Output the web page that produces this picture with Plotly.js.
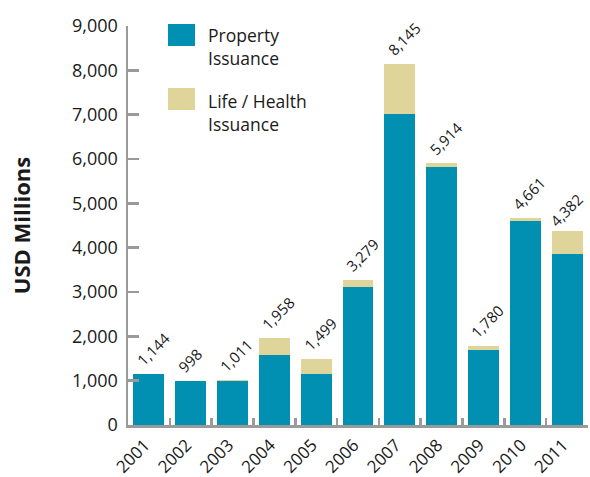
<!DOCTYPE html>
<html><head><meta charset="utf-8">
<script src="https://cdn.plot.ly/plotly-3.0.1.min.js"></script>
<style>html,body{margin:0;padding:0;background:#fff}#c{width:590px;height:477px}</style>
</head><body><div id="c"></div>
<script>
const years = ["2001","2002","2003","2004","2005","2006","2007","2008","2009","2010","2011"];
const property = [1144, 998, 995, 1580, 1140, 3120, 7020, 5820, 1690, 4600, 3865];
const lifeHealth = [0, 0, 16, 378, 359, 159, 1125, 94, 90, 61, 517];
const totals = [1144, 998, 1011, 1958, 1499, 3279, 8145, 5914, 1780, 4661, 4382];
const totalLabels = ["1,144","998","1,011","1,958","1,499","3,279","8,145","5,914","1,780","4,661","4,382"];
const yTicks = [0,1000,2000,3000,4000,5000,6000,7000,8000,9000];
const yTickText = ["0","1,000","2,000","3,000","4,000","5,000","6,000","7,000","8,000","9,000"];
const seriesNames = ["Property<br>Issuance", "Life / Health<br>Issuance"];

const FONT = "'Open Sans', 'Noto Sans', sans-serif";
const BLUE = "#0190B2", TAN = "#DFD59B", AX = "#9a9a9a", TXT = "#1a1a1a";

const traces = [
  {type:"bar", x:years, y:property, marker:{color:BLUE}, name:"Property Issuance", showlegend:false, hoverinfo:"skip"},
  {type:"bar", x:years, y:lifeHealth, marker:{color:TAN}, name:"Life / Health Issuance", showlegend:false, hoverinfo:"skip"}
];

const lastIdx = years.length - 1;
const annotations = years.map((yr,i)=>({
  x: i, y: totals[i], xref:"x", yref:"y", text: totalLabels[i], showarrow:false,
  textangle:-45, xanchor:"left", yanchor:"bottom",
  xshift: i === lastIdx ? -23 : -18, yshift: i === lastIdx ? -1 : 3, borderpad:0,
  font:{family:FONT, size:15, color:TXT}
}));
// legend text
annotations.push({xref:"paper", yref:"paper", x:(206-128)/460, y:1-(21-26)/399, xanchor:"left", yanchor:"top", align:"left",
  text:seriesNames[0], showarrow:false, font:{family:FONT,size:17.5,color:TXT}});
annotations.push({xref:"paper", yref:"paper", x:(206-128)/460, y:1-(87-26)/399, xanchor:"left", yanchor:"top", align:"left",
  text:seriesNames[1], showarrow:false, font:{family:FONT,size:17.5,color:TXT}});

const shapes = [
  {type:"rect", xref:"paper", yref:"paper", x0:(168-128)/460, x1:(195-128)/460, y0:1-(46-26)/399, y1:1-(24-26)/399, fillcolor:BLUE, line:{width:0}},
  {type:"rect", xref:"paper", yref:"paper", x0:(168-128)/460, x1:(195-128)/460, y0:1-(110-26)/399, y1:1-(88-26)/399, fillcolor:TAN, line:{width:0}}
];

const layout = {
  width:590, height:477, barmode:"stack", bargap:0.26,
  margin:{l:128, r:2, t:26, b:52},
  paper_bgcolor:"#fff", plot_bgcolor:"#fff",
  font:{family:FONT, color:TXT},
  showlegend:false,
  xaxis:{type:"category", range:[-0.5,10.5], showline:true, linecolor:AX, linewidth:2.5, ticks:"inside", tickson:"boundaries",
    ticklen:7, tickwidth:2.5, tickcolor:AX, tickangle:-45, tickfont:{family:FONT,size:17,color:TXT},
    ticklabelshift:-4, ticklabelstandoff:1,
    showgrid:false, zeroline:false, fixedrange:true},
  yaxis:{range:[0,9000], tickvals:yTicks, ticktext:yTickText, showline:true, linecolor:AX, linewidth:2.5,
    ticks:"inside", ticklen:11, tickwidth:2.5, tickcolor:AX, tickfont:{family:FONT,size:18,color:TXT},
    ticklabelstandoff:4,
    showgrid:false, zeroline:false, fixedrange:true,
    title:{text:"<b>USD Millions</b>", font:{family:FONT,size:22,color:TXT}, standoff:36}},
  annotations, shapes
};
Plotly.newPlot("c", traces, layout, {staticPlot:true, displayModeBar:false});
</script></body></html>
